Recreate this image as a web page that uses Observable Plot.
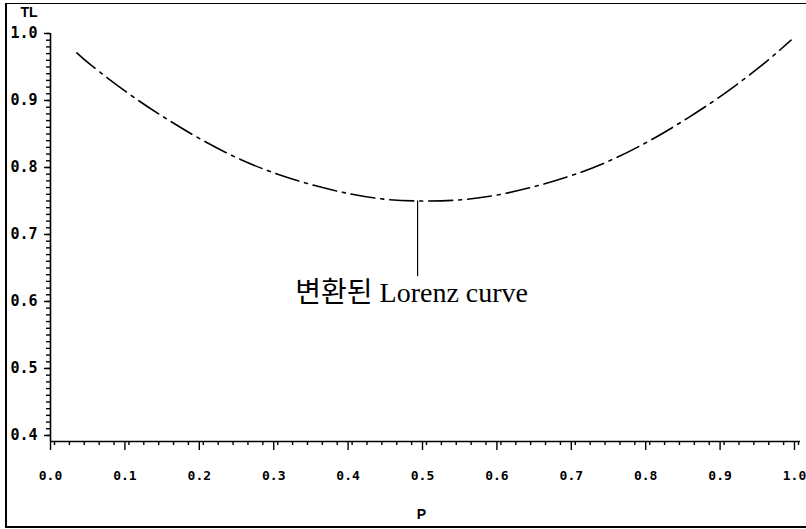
<!DOCTYPE html>
<html>
<head>
<meta charset="utf-8">
<script src="https://cdn.jsdelivr.net/npm/d3@7"></script>
<script src="https://cdn.jsdelivr.net/npm/@observablehq/plot@0.6"></script>
<style>
  html, body { margin: 0; padding: 0; background: #fff; }
  #wrap { position: relative; width: 806px; height: 529px; overflow: hidden; }
  #border {
    position: absolute; left: 5px; top: 3px; width: 820px; height: 522px;
    border-left: 2px solid #000; border-top: 1.5px solid #000; border-bottom: 2px solid #000;
    pointer-events: none;
  }
</style>
</head>
<body>
<div id="wrap"><div id="border"></div></div>
<script>
// Transformed Lorenz curve: TL against P
const P  = [0.03, 0.05, 0.10, 0.15, 0.20, 0.25, 0.30, 0.35, 0.40, 0.45, 0.50,
            0.55, 0.60, 0.65, 0.70, 0.75, 0.80, 0.85, 0.90, 0.95, 0.99];
const TL = [0.971, 0.952, 0.910, 0.873, 0.840, 0.812, 0.790, 0.773, 0.760, 0.752, 0.750,
            0.752, 0.760, 0.773, 0.790, 0.812, 0.840, 0.873, 0.910, 0.952, 0.990];

// Axis ticks
const xMajorTicks = [0.0, 0.1, 0.2, 0.3, 0.4, 0.5, 0.6, 0.7, 0.8, 0.9, 1.0];
const yMajorTicks = [0.4, 0.5, 0.6, 0.7, 0.8, 0.9, 1.0];
const xMinorTicks = d3.range(0, 1.0001, 0.02);
const yMinorTicks = d3.range(0.4, 1.0001, 0.01);

// Annotation pointing at the bottom of the curve
const noteP = 0.488;
const noteTop = 0.750;
const noteBottom = 0.637;
const noteLabel = "변환된 Lorenz curve";
const noteLabelP = 0.480;
const noteLabelTL = 0.612;

const data = P.map((p, i) => ({P: p, TL: TL[i]}));
const fmt = d3.format(".1f");
const tickFont = "'DejaVu Sans Mono', monospace";
const titleFont = "'Liberation Sans', Arial, sans-serif";

const xDomain = [-0.0054, 1.0027];
const yDomain = [0.391, 1.0];

const chart = Plot.plot({
  width: 806,
  height: 529,
  marginLeft: 50,
  marginRight: 6,
  marginTop: 33,
  marginBottom: 88,
  x: {domain: xDomain, label: null},
  y: {domain: yDomain, label: null},
  style: {background: "transparent", color: "#000"},
  marks: [
    // axis lines
    Plot.ruleY([yDomain[0]], {x1: xDomain[0], x2: xDomain[1], strokeWidth: 1.6}),
    Plot.ruleX([xDomain[0]], {y1: yDomain[0], y2: yDomain[1], strokeWidth: 1.6}),
    // x axis
    Plot.axisX(xMinorTicks, {tickSize: 4, text: null, label: null, strokeWidth: 1.4}),
    Plot.axisX(xMajorTicks, {
      tickSize: 9, tickPadding: 20, tickFormat: fmt, strokeWidth: 1.4, dx: -4,
      fontFamily: tickFont, fontWeight: "bold", fontSize: 13, label: null
    }),
    // y axis
    Plot.axisY(yMinorTicks, {tickSize: 4, text: null, label: null, strokeWidth: 1.4}),
    Plot.axisY(yMajorTicks, {
      tickSize: 6, tickPadding: 7, tickFormat: fmt, strokeWidth: 1.4,
      fontFamily: tickFont, fontWeight: "bold", fontSize: 15, label: null
    }),
    // axis titles
    Plot.text(["TL"], {frameAnchor: "top-left", dx: -30, dy: -26,
      fontFamily: titleFont, fontWeight: "bold", fontSize: 14}),
    Plot.text(["P"], {frameAnchor: "bottom", dx: -4, dy: 77,
      fontFamily: titleFont, fontWeight: "bold", fontSize: 14}),
    // the curve
    Plot.line(data, {x: "P", y: "TL", curve: "natural", stroke: "#000",
      strokeWidth: 1.6, strokeDasharray: "24,6,3,6"}),
    // annotation
    Plot.ruleX([noteP], {y1: noteTop, y2: noteBottom, stroke: "#000", strokeWidth: 1.2}),
    Plot.text([noteLabel], {x: noteLabelP, y: noteLabelTL, text: d => d,
      fontFamily: "'Liberation Serif', 'Times New Roman', 'Noto Sans CJK KR', serif",
      fontSize: 28, fill: "#000"})
  ]
});

document.getElementById("wrap").prepend(chart);
</script>
</body>
</html>
